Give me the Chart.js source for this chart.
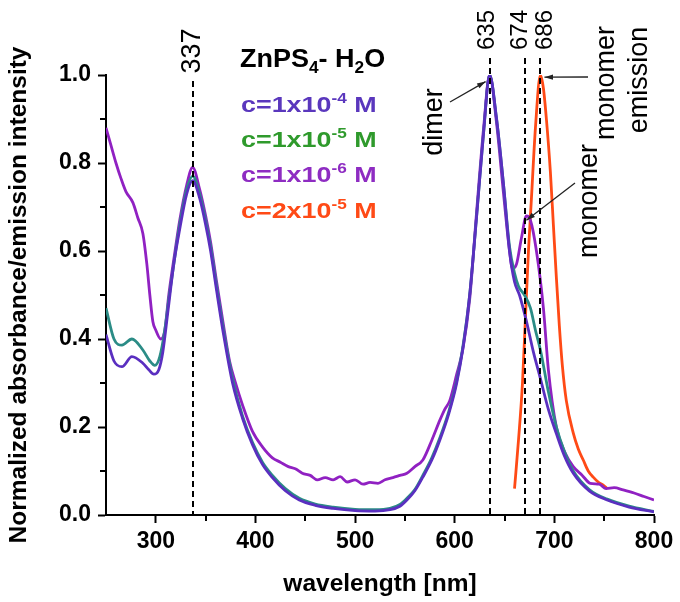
<!DOCTYPE html>
<html>
<head>
<meta charset="utf-8">
<script src="https://cdn.jsdelivr.net/npm/chart.js@4.4.0/dist/chart.umd.min.js"></script>
<style>
  html, body { margin: 0; padding: 0; background: #fff; }
</style>
</head>
<body>
<canvas id="myChart" width="680" height="602"></canvas>
<script>
const FONT = "'Liberation Sans', Arial, sans-serif";

// c = 1x10^-4 M
const wlA = [250,258,266,276,287,293,298,303,307,312,318,324,331,337,344,350,355,361,368,377,387,397,407,417,430,444,460,478,500,520,535,545,552,560,568,577,585,594,602,609,615,622,629,635,642,649,655,660,665,672,679,686,694,702,710,719,735,753,775,800];
const absA = [0.41,0.35,0.337,0.36,0.345,0.33,0.32,0.33,0.37,0.46,0.57,0.65,0.73,0.76,0.72,0.66,0.60,0.51,0.41,0.30,0.22,0.16,0.115,0.085,0.055,0.034,0.022,0.015,0.01,0.009,0.012,0.02,0.034,0.055,0.086,0.125,0.17,0.23,0.30,0.39,0.50,0.68,0.87,1.0,0.90,0.75,0.60,0.53,0.50,0.44,0.37,0.31,0.24,0.185,0.135,0.095,0.055,0.034,0.018,0.007];

// c = 1x10^-5 M
const wlB = [250,258,266,276,287,294,299,304,309,313,318,324,331,337,344,350,355,361,368,377,387,397,407,417,430,444,460,478,500,520,535,545,552,560,568,577,585,594,602,609,615,622,629,635,642,649,655,660,664,670,676,681,686,694,702,710,719,735,753,775,800];
const absB = [0.47,0.40,0.386,0.40,0.375,0.35,0.34,0.36,0.42,0.49,0.57,0.66,0.74,0.77,0.73,0.67,0.61,0.52,0.42,0.31,0.225,0.165,0.12,0.09,0.06,0.038,0.025,0.018,0.013,0.012,0.015,0.024,0.038,0.058,0.09,0.13,0.175,0.235,0.305,0.395,0.50,0.68,0.87,1.0,0.90,0.75,0.61,0.55,0.52,0.50,0.47,0.42,0.375,0.28,0.20,0.145,0.10,0.058,0.036,0.02,0.008];

// c = 1x10^-6 M
const wlC = [250,255,260,265,270,277,282,287,291,294,297,300,305,309,313,318,324,331,337,344,350,355,361,368,374,380,387,397,407,417,425,433,440,447,455,462,470,478,485,492,500,508,515,523,530,538,545,552,560,568,577,585,590,595,602,608,615,622,629,635,642,649,655,658,662,667,672,676,682,689,694,702,711,719,728,736,745,752,760,769,780,790,800];
const absC = [0.88,0.84,0.80,0.765,0.735,0.71,0.675,0.64,0.57,0.50,0.44,0.42,0.40,0.42,0.50,0.58,0.67,0.75,0.79,0.74,0.68,0.62,0.53,0.43,0.35,0.30,0.25,0.19,0.155,0.13,0.12,0.11,0.105,0.095,0.09,0.08,0.085,0.08,0.087,0.075,0.08,0.07,0.074,0.072,0.08,0.085,0.09,0.095,0.11,0.125,0.17,0.215,0.24,0.26,0.32,0.375,0.49,0.69,0.88,1.0,0.89,0.73,0.60,0.56,0.57,0.63,0.68,0.67,0.60,0.47,0.33,0.20,0.14,0.11,0.09,0.072,0.07,0.06,0.062,0.057,0.05,0.042,0.034];

// emission, c = 2x10^-5 M
const wlD = [660,664,668,671,674,677,681,686,689,692,696,699,702,705,708,712,719,724,729,734,739,744,749,753];
const emD = [0.06,0.17,0.30,0.45,0.60,0.72,0.88,1.0,0.97,0.90,0.78,0.66,0.54,0.43,0.34,0.26,0.186,0.15,0.125,0.10,0.086,0.075,0.068,0.06];

const concBase = ['1', '1', '1', '2'];
const concExp = ['-4', '-5', '-6', '-5'];
const textColors = ['#5a37bd', '#2f9a2c', '#8e2cc2', '#ff4a16'];
const lineColors = ['#5a2fc0', '#2b8c86', '#9021c2', '#ff4a16'];

const xTickValues = [300, 400, 500, 600, 700, 800];
const xMinorValues = [350, 450, 550, 650, 750];
const yTickValues = [0.0, 0.2, 0.4, 0.6, 0.8, 1.0];
const yMinorValues = [0.1, 0.3, 0.5, 0.7, 0.9];

const peakLinePos = [337, 635, 671, 686];
const peakLabels = ['337', '635', '674', '686'];

function pts(xs, ys) {
    return xs.map((x, i) => ({ x: x, y: ys[i] }));
}

function richText(ctx, parts, x, y, size, color, sx) {
    ctx.save();
    ctx.translate(x, y);
    ctx.scale(sx, 1);
    ctx.fillStyle = color;
    ctx.textBaseline = 'alphabetic';
    let cx = 0;
    parts.forEach(p => {
        const s = p.k ? size * 0.64 : size;
        ctx.font = `bold ${s}px ${FONT}`;
        const dy = p.k === 'sup' ? -size * 0.4 : (p.k === 'sub' ? size * 0.25 : 0);
        ctx.fillText(p.t, cx, dy);
        cx += ctx.measureText(p.t).width;
    });
    ctx.restore();
}

function vText(ctx, text, x, y, font) {
    ctx.save();
    ctx.translate(x, y);
    ctx.rotate(-Math.PI / 2);
    ctx.font = font;
    ctx.fillStyle = '#000';
    ctx.textAlign = 'center';
    ctx.textBaseline = 'middle';
    ctx.fillText(text, 0, 0);
    ctx.restore();
}

function arrow(ctx, x1, y1, x2, y2) {
    const a = Math.atan2(y2 - y1, x2 - x1);
    ctx.save();
    ctx.strokeStyle = '#222';
    ctx.fillStyle = '#222';
    ctx.lineWidth = 1.3;
    ctx.beginPath();
    ctx.moveTo(x1, y1);
    ctx.lineTo(x2, y2);
    ctx.stroke();
    ctx.beginPath();
    ctx.moveTo(x2, y2);
    ctx.lineTo(x2 - 9 * Math.cos(a - 0.3), y2 - 9 * Math.sin(a - 0.3));
    ctx.lineTo(x2 - 9 * Math.cos(a + 0.3), y2 - 9 * Math.sin(a + 0.3));
    ctx.closePath();
    ctx.fill();
    ctx.restore();
}

const minorTicks = {
    id: 'minorTicks',
    afterDraw(chart) {
        const c = chart.ctx;
        const xs = chart.scales.x, ys = chart.scales.y;
        const area = chart.chartArea;
        c.save();
        c.strokeStyle = '#000';
        c.lineWidth = 2;
        xMinorValues.forEach(v => {
            const px = Math.round(xs.getPixelForValue(v));
            c.beginPath();
            c.moveTo(px, area.bottom);
            c.lineTo(px, area.bottom + 6);
            c.stroke();
        });
        yMinorValues.forEach(v => {
            const py = Math.round(ys.getPixelForValue(v));
            c.beginPath();
            c.moveTo(area.left, py);
            c.lineTo(area.left - 6, py);
            c.stroke();
        });
        c.restore();
    }
};

const annotations = {
    id: 'annotations',
    afterDatasetsDraw(chart) {
        const c = chart.ctx;
        const xs = chart.scales.x, ys = chart.scales.y;
        const area = chart.chartArea;

        // dashed peak markers
        c.save();
        c.strokeStyle = '#000';
        c.lineWidth = 2;
        c.setLineDash([6, 4]);
        peakLinePos.forEach((v, i) => {
            const px = Math.round(xs.getPixelForValue(v));
            c.beginPath();
            c.moveTo(px, i === 0 ? 81 : 58);
            c.lineTo(px, area.bottom);
            c.stroke();
        });
        c.restore();

        // peak labels
        vText(c, peakLabels[0], xs.getPixelForValue(peakLinePos[0]), 51, `27px ${FONT}`);
        vText(c, peakLabels[1], xs.getPixelForValue(peakLinePos[1]) - 2, 30, `24px ${FONT}`);
        vText(c, peakLabels[2], xs.getPixelForValue(peakLinePos[2]) - 5, 30, `24px ${FONT}`);
        vText(c, peakLabels[3], xs.getPixelForValue(peakLinePos[3]) + 5, 30, `24px ${FONT}`);

        // band labels
        vText(c, 'dimer', 435, 122, `27px ${FONT}`);
        vText(c, 'monomer', 607, 83, `27px ${FONT}`);
        vText(c, 'emission', 640, 80, `27px ${FONT}`);
        vText(c, 'monomer', 590, 201, `27px ${FONT}`);

        // arrows pointing to peaks
        arrow(c, 450, 102, xs.getPixelForValue(635) - 4, ys.getPixelForValue(0.985));
        arrow(c, 588, 77, xs.getPixelForValue(686) + 4, ys.getPixelForValue(0.995));
        arrow(c, 575, 183, xs.getPixelForValue(672), ys.getPixelForValue(0.67));

        // legend
        richText(c, [{ t: 'ZnPS' }, { t: '4', k: 'sub' }, { t: '- H' }, { t: '2', k: 'sub' }, { t: 'O' }], 240, 67, 25, '#000', 1.08);
        const rowY = [112, 147, 182, 218];
        concBase.forEach((b, i) => {
            richText(c, [{ t: 'c=' + b + 'x10' }, { t: concExp[i], k: 'sup' }, { t: ' M' }], 241, rowY[i], 21.5, textColors[i], 1.25);
        });
    }
};

const line = (data, color) => ({
    data: data,
    borderColor: color,
    backgroundColor: color,
    borderWidth: 2.8,
    pointRadius: 0,
    cubicInterpolationMode: 'monotone',
    fill: false
});

const myChart = new Chart(document.getElementById('myChart').getContext('2d'), {
    type: 'line',
    data: {
        datasets: [
            line(pts(wlA, absA), lineColors[0]),
            line(pts(wlB, absB), lineColors[1]),
            line(pts(wlC, absC), lineColors[2]),
            line(pts(wlD, emD), lineColors[3])
        ]
    },
    options: {
        responsive: false,
        animation: false,
        layout: { padding: { top: 75, right: 26, left: 0, bottom: 0 } },
        plugins: {
            legend: { display: false },
            tooltip: { enabled: false }
        },
        scales: {
            x: {
                type: 'linear',
                min: 250,
                max: 800,
                afterBuildTicks: s => { s.ticks = xTickValues.map(v => ({ value: v })); },
                afterFit: s => { s.height = 87; },
                grid: { drawOnChartArea: false, drawTicks: true, tickLength: 8, tickColor: '#000', tickWidth: 2, color: '#000' },
                border: { display: true, color: '#000', width: 2 },
                ticks: {
                    color: '#000',
                    padding: 5,
                    maxRotation: 0,
                    autoSkip: false,
                    font: { family: FONT, size: 23, weight: 'bold' }
                },
                title: {
                    display: true,
                    text: 'wavelength [nm]',
                    color: '#000',
                    padding: { top: 0, bottom: 3 },
                    font: { family: FONT, size: 24.5, weight: 'bold' }
                }
            },
            y: {
                min: 0,
                max: 1,
                afterBuildTicks: s => { s.ticks = yTickValues.map(v => ({ value: v })); },
                afterFit: s => { s.width = 106; },
                grid: { drawOnChartArea: false, drawTicks: true, tickLength: 8, tickColor: '#000', tickWidth: 2, color: '#000' },
                border: { display: true, color: '#000', width: 2 },
                ticks: {
                    color: '#000',
                    padding: 7,
                    callback: v => Number(v).toFixed(1),
                    font: { family: FONT, size: 23, weight: 'bold' }
                },
                title: {
                    display: true,
                    text: 'Normalized absorbance/emission intensity',
                    color: '#000',
                    padding: { top: 5, bottom: 0 },
                    font: { family: FONT, size: 24.5, weight: 'bold' }
                }
            }
        }
    },
    plugins: [minorTicks, annotations]
});
</script>
</body>
</html>
